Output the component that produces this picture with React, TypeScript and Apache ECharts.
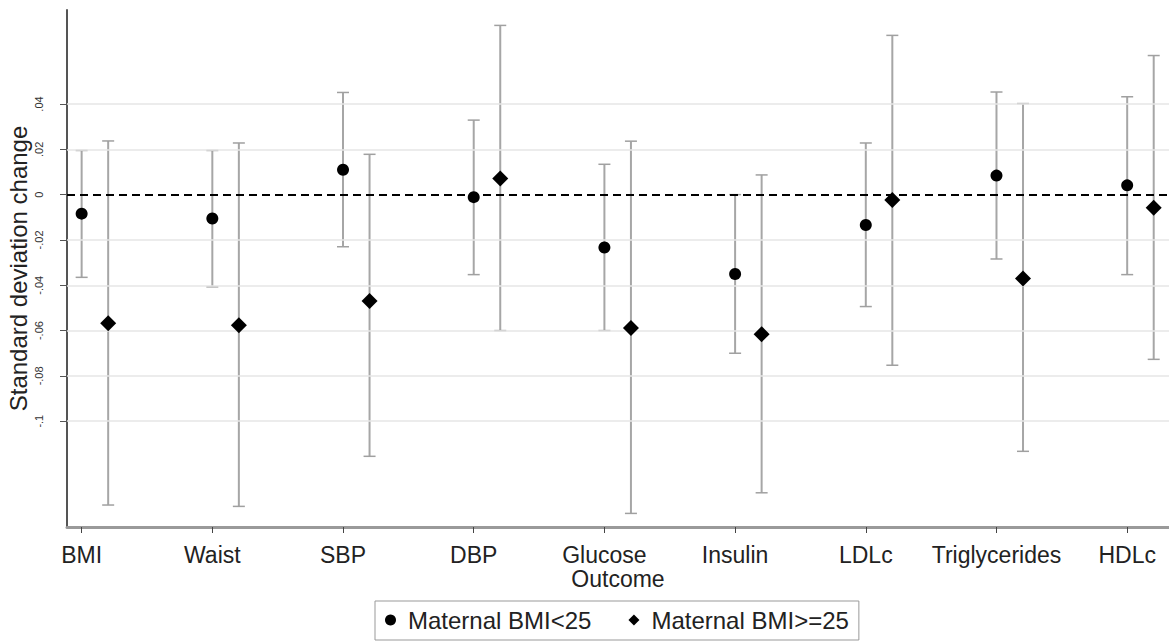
import React, { useEffect, useRef } from "react";
import * as echarts from "echarts";

const categories = ["BMI", "Waist", "SBP", "DBP", "Glucose", "Insulin", "LDLc", "Triglycerides", "HDLc"];

// Maternal BMI<25 (circles)
const lowEst = [-0.0084, -0.0105, 0.011, -0.0011, -0.0233, -0.035, -0.0134, 0.0084, 0.0041];
const lowLo = [-0.0365, -0.0407, -0.023, -0.0353, -0.06, -0.07, -0.0494, -0.0284, -0.0353];
const lowHi = [0.0195, 0.0195, 0.0451, 0.0329, 0.0134, 0.0, 0.0228, 0.0453, 0.0432];

// Maternal BMI>=25 (diamonds)
const highEst = [-0.0568, -0.0577, -0.047, 0.0071, -0.0589, -0.0616, -0.0024, -0.037, -0.0058];
const highLo = [-0.137, -0.1376, -0.1155, -0.06, -0.1407, -0.1316, -0.0753, -0.1133, -0.0727];
const highHi = [0.0237, 0.0228, 0.0178, 0.0747, 0.0236, 0.0087, 0.0703, 0.0402, 0.0614];

const yTicks = [0.04, 0.02, 0, -0.02, -0.04, -0.06, -0.08, -0.1];
const xTicks = [1, 2, 3, 4, 5, 6, 7, 8, 9];
const OFFSET = 0.203;

const FONT = "'Liberation Sans', Arial, sans-serif";

const fmtY = (v: number) => {
  if (Math.abs(v) < 1e-9) return "0";
  const s = parseFloat(Math.abs(v).toFixed(2)).toString().replace(/^0/, "");
  return (v < 0 ? "-" : "") + s;
};

export default function App() {
  const ref = useRef<HTMLDivElement>(null);
  useEffect(() => {
    if (!ref.current) return;
    const chart = echarts.init(ref.current, undefined, { renderer: "svg" });

    const lowBars = categories.map((_, i) => [i + 1, lowLo[i], lowHi[i]]);
    const highBars = categories.map((_, i) => [i + 1 + OFFSET, highLo[i], highHi[i]]);
    const lowPts = categories.map((_, i) => [i + 1, lowEst[i]]);
    const highPts = categories.map((_, i) => [i + 1 + OFFSET, highEst[i]]);

    const renderErr = (params: any, api: any) => {
      const x = api.value(0);
      const lo = api.coord([x, api.value(1)]);
      const hi = api.coord([x, api.value(2)]);
      const hw = 6;
      const st = { stroke: "#a6a6a6", lineWidth: 2 };
      const cst = { stroke: "#a0a0a0", lineWidth: 1.5 };
      return {
        type: "group",
        children: [
          { type: "line", shape: { x1: lo[0], y1: lo[1], x2: hi[0], y2: hi[1] }, style: st },
          { type: "line", shape: { x1: hi[0] - hw, y1: hi[1], x2: hi[0] + hw, y2: hi[1] }, style: cst },
          { type: "line", shape: { x1: lo[0] - hw, y1: lo[1], x2: lo[0] + hw, y2: lo[1] }, style: cst },
        ],
      };
    };

    const option: any = {
      animation: false,
      backgroundColor: "#ffffff",
      textStyle: { fontFamily: FONT },
      grid: { left: 67, right: 0, top: 10, bottom: 114, containLabel: false, outerBoundsMode: "none" },
      legend: {
        left: 375,
        top: 601,
        orient: "horizontal",
        padding: [7, 10, 8, 10],
        itemGap: 37,
        itemWidth: 11,
        itemHeight: 11,
        borderColor: "#999",
        borderWidth: 1,
        borderRadius: 0,
        textStyle: { fontSize: 24, color: "#222", fontFamily: FONT, padding: [0, 0, 0, 7] },
        data: [
          { name: "Maternal BMI<25", icon: "circle" },
          { name: "Maternal BMI>=25", icon: "diamond" },
        ],
      },
      xAxis: {
        type: "value",
        min: 0.888,
        max: 9.32,
        name: "Outcome",
        nameLocation: "middle",
        nameGap: 40,
        nameMoveOverlap: false,
        nameTextStyle: { fontSize: 23, color: "#222", fontFamily: FONT },
        axisLine: { show: true, onZero: false, lineStyle: { color: "#9a9a9a", width: 3 } },
        axisTick: { show: true, length: 6, customValues: xTicks, lineStyle: { color: "#444", width: 1 } },
        axisLabel: {
          show: true,
          customValues: xTicks,
          margin: 16,
          fontSize: 23,
          color: "#222",
          fontFamily: FONT,
          formatter: (v: number) => categories[Math.round(v) - 1] ?? "",
        },
        splitLine: { show: false },
      },
      yAxis: {
        type: "value",
        min: -0.1467,
        max: 0.0815,
        name: "Standard deviation change",
        nameLocation: "middle",
        nameGap: 37,
        nameRotate: 90,
        nameMoveOverlap: false,
        nameTextStyle: { fontSize: 24, color: "#222", fontFamily: FONT },
        axisLine: { show: true, onZero: false, lineStyle: { color: "#555", width: 2 } },
        axisTick: { show: true, length: 7, customValues: yTicks, lineStyle: { color: "#555", width: 1 } },
        axisLabel: {
          show: true,
          customValues: yTicks,
          rotate: 90,
          margin: 23,
          fontSize: 11,
          color: "#333",
          fontFamily: FONT,
          formatter: (v: number) => fmtY(v),
        },
        splitLine: { show: false },
      },
      series: [
        {
          name: "grid",
          type: "line",
          data: [],
          silent: true,
          z: 0,
          markLine: {
            silent: true,
            symbol: "none",
            label: { show: false },
            lineStyle: { color: "#e6e6e6", width: 1.5, type: "solid" },
            data: yTicks.filter((v) => v !== 0).map((v) => ({ yAxis: v })),
          },
        },
        {
          name: "errLow",
          type: "custom",
          renderItem: renderErr,
          data: lowBars,
          z: 2,
          silent: true,
        },
        {
          name: "errHigh",
          type: "custom",
          renderItem: renderErr,
          data: highBars,
          z: 2,
          silent: true,
        },
        {
          name: "zero",
          type: "line",
          data: [],
          silent: true,
          z: 3,
          markLine: {
            silent: true,
            symbol: "none",
            label: { show: false },
            lineStyle: { color: "#000", width: 2, type: [8, 5] },
            data: [{ yAxis: 0 }],
          },
        },
        {
          name: "Maternal BMI<25",
          type: "scatter",
          symbol: "circle",
          symbolSize: 12,
          itemStyle: { color: "#000", opacity: 1 },
          data: lowPts,
          z: 5,
        },
        {
          name: "Maternal BMI>=25",
          type: "scatter",
          symbol: "diamond",
          symbolSize: 16,
          itemStyle: { color: "#000", opacity: 1 },
          data: highPts,
          z: 5,
        },
      ],
    };
    chart.setOption(option);
    return () => chart.dispose();
  }, []);
  return (
    <div
      ref={ref}
      style={{ position: "absolute", left: 0, top: 0, width: 1169, height: 641 }}
    />
  );
}
